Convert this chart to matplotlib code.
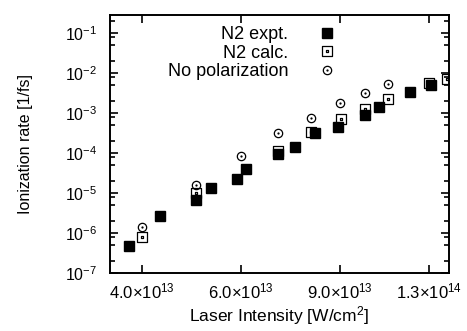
import numpy as np
import matplotlib
matplotlib.use("Agg")
import matplotlib.pyplot as plt
from matplotlib.path import Path
from matplotlib.ticker import FixedLocator, LogLocator, NullFormatter, NullLocator

plt.rcParams["font.family"] = ["Liberation Sans", "DejaVu Sans"]
plt.rcParams["mathtext.fontset"] = "custom"
plt.rcParams["mathtext.rm"] = "Liberation Sans"
plt.rcParams["mathtext.it"] = "Liberation Sans:italic"
plt.rcParams["mathtext.bf"] = "Liberation Sans:bold"
plt.rcParams["axes.unicode_minus"] = False

# N2 experiment
expt_I = [3.79e13, 4.31e13, 5.0e13, 5.31e13, 5.9e13, 6.12e13, 7.0e13, 7.5e13,
          8.13e13, 8.96e13, 1.0e14, 1.06e14, 1.2e14, 1.31e14]
expt_rate = [4.6e-7, 2.66e-6, 6.7e-6, 1.36e-5, 2.24e-5, 3.98e-5, 9.4e-5, 1.44e-4,
             3.2e-4, 4.5e-4, 8.9e-4, 1.39e-3, 3.3e-3, 5.0e-3]

# N2 calculation
calc_I = [4.0e13, 5.0e13, 7.0e13, 8.0e13, 9.04e13, 1.0e14, 1.1e14, 1.3e14, 1.4e14]
calc_rate = [8.1e-7, 1.02e-5, 1.14e-4, 3.35e-4, 6.9e-4, 1.23e-3, 2.2e-3, 5.5e-3, 7.1e-3]

# no polarization
nopol_I = [4.0e13, 5.0e13, 6.0e13, 7.0e13, 8.0e13, 9.0e13, 1.0e14, 1.1e14]
nopol_rate = [1.44e-6, 1.55e-5, 8.5e-5, 3.1e-4, 7.4e-4, 1.75e-3, 3.1e-3, 5.3e-3]

xticks = [4.0e13, 6.0e13, 9.0e13, 1.3e14]
xticklabels = [r"$4.0{\times}10^{13}$", r"$6.0{\times}10^{13}$",
               r"$9.0{\times}10^{13}$", r"$1.3{\times}10^{14}$"]


def dotted(outer):
    # outline marker with a small dot in the middle
    inner = Path(outer.vertices * 0.12, outer.codes)
    return Path.make_compound_path(outer, inner)


sq = Path([(-1, -1), (1, -1), (1, 1), (-1, 1), (-1, -1)],
          [Path.MOVETO, Path.LINETO, Path.LINETO, Path.LINETO, Path.CLOSEPOLY])
sq_dot = dotted(sq)
circ_dot = dotted(Path.unit_circle())

fig = plt.figure(figsize=(4.67, 3.31), dpi=100)
ax = fig.add_axes([0.2355, 0.1752, 0.7260, 0.7795])

ax.plot(expt_I, expt_rate, ls="none", marker="s", ms=6.6, mfc="black",
        mec="black", label="N2 expt.", zorder=3)
ax.plot(calc_I, calc_rate, ls="none", marker=sq_dot, ms=6.6, mfc="none",
        mec="black", mew=0.9, label="N2 calc.", zorder=4)
ax.plot(nopol_I, nopol_rate, ls="none", marker=circ_dot, ms=6.0, mfc="none",
        mec="black", mew=0.9, label="No polarization", zorder=4)

ax.set_xscale("log")
ax.set_yscale("log")
ax.set_xlim(3.51e13, 1.41e14)
ax.set_ylim(1e-7, 0.28)

ax.xaxis.set_major_locator(FixedLocator(xticks))
ax.set_xticklabels(xticklabels)
ax.xaxis.set_minor_locator(NullLocator())
ax.xaxis.set_minor_formatter(NullFormatter())

ax.yaxis.set_major_locator(LogLocator(base=10, numticks=20))
ax.yaxis.set_minor_locator(LogLocator(base=10, subs=[2, 5, 8], numticks=20))
ax.yaxis.set_minor_formatter(NullFormatter())

ax.tick_params(which="both", direction="in", top=True, right=True,
               width=1.2, colors="black")
ax.tick_params(axis="x", labelsize=12, pad=6)
ax.tick_params(axis="y", labelsize=11.5, pad=9)
ax.tick_params(which="major", length=6)
ax.tick_params(which="minor", length=3.5)
for s in ax.spines.values():
    s.set_linewidth(1.4)

ax.set_xlabel(r"Laser Intensity [W/cm$^2$]", fontsize=12.5, labelpad=2)
ax.set_ylabel("Ionization rate [1/fs]", fontsize=11.5, labelpad=23)

ax.legend(loc="upper right", bbox_to_anchor=(0.672, 0.956), frameon=False,
          markerfirst=False, fontsize=13, handlelength=1.2, handletextpad=1.55,
          labelspacing=0.08, borderpad=0, borderaxespad=0)

fig.savefig("out.png", dpi=100)
